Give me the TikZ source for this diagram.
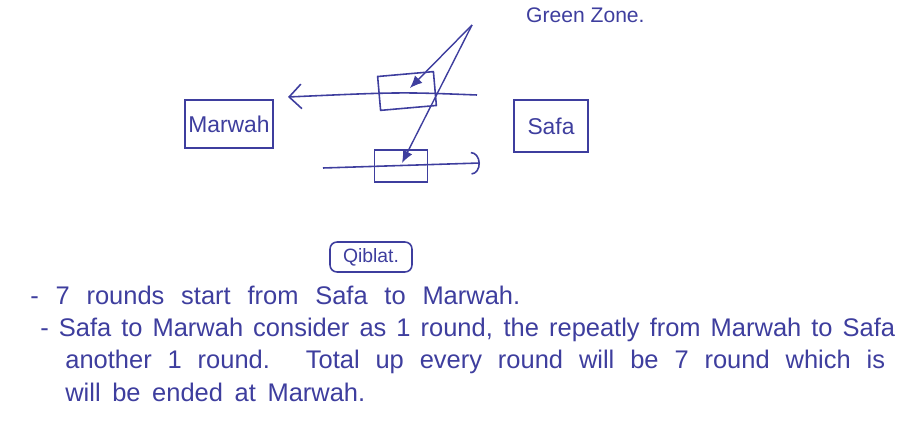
\documentclass[tikz,border=0pt]{standalone}
\usepackage{fontspec}
\setmainfont{Liberation Sans}
\usepackage{tikz}
\usetikzlibrary{arrows.meta, positioning, calc}
\definecolor{ink}{RGB}{62,62,158}
\tikzset{
  place/.style={rectangle, draw=ink, text=ink, line width=0.9pt,
    font=\fontsize{13}{15}\selectfont, inner sep=0pt},
  zonebox/.style={rectangle, draw=ink, line width=0.9pt, inner sep=0pt},
  noteline/.style={anchor=west, text=ink, inner sep=0pt,
    font=\fontsize{14.5}{16}\selectfont},
  walk/.style={ink, line width=0.9pt},
  lead/.style={ink, line width=0.8pt, -{Latex[length=7pt, width=6pt]}}
}
\begin{document}
\begin{tikzpicture}[x=0.02cm, y=-0.02cm]
  \useasboundingbox (0,0) rectangle (902,425);
  \node[place, minimum width=1.76cm, minimum height=0.96cm] (marwah) at (229,124) {Marwah};
  \node[place, minimum width=1.48cm, minimum height=1.04cm] (safa) at (551,126) {Safa};
  \node[zonebox, minimum width=1.12cm, minimum height=0.68cm, rotate=5] (zoneup) at (407,91) {};
  \node[zonebox, minimum width=1.06cm, minimum height=0.64cm] (zonedown) at (401,166) {};
  \node[text=ink, anchor=west, font=\fontsize{12}{14}\selectfont] (greenzone) at (520,15) {Green Zone.};
  \coordinate (apex) at (472,25);
  \coordinate (upR) at (477,95);
  \coordinate (upL) at (288,97);
  \coordinate (downL) at (323,168);
  \coordinate (downR) at (480,163);
  \draw[walk, -{Straight Barb[length=7pt, width=14pt]}] (upR) .. controls (400,92) .. (upL);
  \draw[walk, -{Arc Barb[length=5pt, width=13pt]}] (downL) -- (downR);
  \draw[lead] (apex) -- ($(zoneup.center)+(3,-3)$);
  \draw[lead] (apex) -- ($(zonedown.center)+(1,-3)$);
  \node[place, rounded corners=4pt, minimum width=1.64cm, minimum height=0.6cm,
    font=\fontsize{11}{13}\selectfont] (qiblat) at (371,257) {Qiblat.};
  \node[noteline] (line1) at (30,295) {\makebox[9.8cm][s]{- 7 rounds start from Safa to Marwah.}};
  \node[noteline] (line2) at (40,330) {\makebox[17.1cm][s]{- Safa to Marwah consider as 1 round, the repeatly from Marwah to Safa}};
  \node[noteline] (line3) at (65,362) {\makebox[16.4cm][s]{another 1 round. Total up every round will be 7 round which is}};
  \node[noteline] (line4) at (65,392) {\makebox[6cm][s]{will be ended at Marwah.}};
\end{tikzpicture}
\end{document}
